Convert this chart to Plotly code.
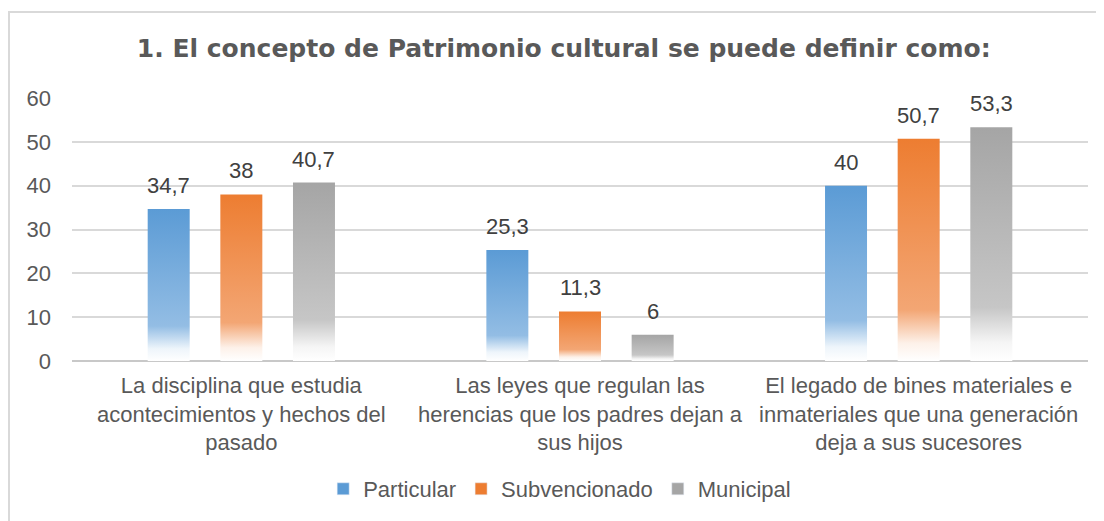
import plotly.graph_objects as go

# ---- data ----
categories = [
    "La disciplina que estudia<br>acontecimientos y hechos del<br>pasado",
    "Las leyes que regulan las<br>herencias que los padres dejan a<br>sus hijos",
    "El legado de bines materiales e<br>inmateriales que una generación<br>deja a sus sucesores",
]
series_names = ["Particular", "Subvencionado", "Municipal"]
particular = [34.7, 25.3, 40]
subvencionado = [38, 11.3, 50.7]
municipal = [40.7, 6, 53.3]
y_ticks = [0, 10, 20, 30, 40, 50, 60]
title_text = "1. El concepto de Patrimonio cultural se puede definir como:"

# ---- style ----
series_values = [particular, subvencionado, municipal]
solid = ["#5B9BD5", "#ED7D31", "#A5A5A5"]
scales = [
    [[0, "#FFFFFF"], [0.08, "#EEF5FB"], [0.23, "#93BDE4"], [1, "#5B9BD5"]],
    [[0, "#FFFFFF"], [0.08, "#FDF1E9"], [0.23, "#F3A674"], [1, "#ED7D31"]],
    [[0, "#FFFFFF"], [0.08, "#F5F5F5"], [0.23, "#C6C6C6"], [1, "#A5A5A5"]],
]
offsets = [-0.2145, 0.0, 0.2145]
half_w = 0.062

W, H = 1096, 513  # page body has an 8px margin
PLOT_H = 263

def fmt(v):
    s = ("%g" % v)
    return s.replace(".", ",")

fig = go.Figure()
annotations = []
for s, (name, vals) in enumerate(zip(series_names, series_values)):
    for i, v in enumerate(vals):
        xc = i + offsets[s]
        fig.add_trace(go.Scatter(
            x=[xc - half_w, xc - half_w, xc + half_w, xc + half_w, xc - half_w],
            y=[0, v, v, 0, 0],
            mode="lines", fill="toself",
            line=dict(width=0, color=solid[s]),
            fillgradient=dict(type="vertical", colorscale=scales[s], start=0, stop=v),
            showlegend=False, hoverinfo="skip",
        ))
        annotations.append(dict(
            x=xc, y=v, xref="x", yref="y", text=fmt(v), showarrow=False,
            yanchor="bottom", yshift=9,
            font=dict(family="Liberation Sans, Arial", size=22, color="#404040"),
        ))
    # legend entry
    fig.add_trace(go.Bar(x=[None], y=[None], name=name, marker_color=solid[s]))

fig.update_layout(
    width=W, height=H,
    margin=dict(l=64, r=16, t=90, b=160, autoexpand=False),
    paper_bgcolor="white", plot_bgcolor="white",
    font=dict(family="Liberation Sans, Arial", size=22, color="#595959"),
    title=dict(
        text="<b>" + title_text + "</b>",
        x=0.484, xref="paper", xanchor="center",
        y=1 - 40 / H, yref="container", yanchor="middle",
        font=dict(family="DejaVu Sans", size=25, color="#595959"),
    ),
    xaxis=dict(
        range=[-0.5, 2.5], tickmode="array", tickvals=[0, 1, 2], ticktext=categories,
        showgrid=False, zeroline=False, showline=False, ticks="",
        tickfont=dict(size=22, color="#595959"), ticklabelstandoff=9,
    ),
    yaxis=dict(
        range=[0, 60], tickmode="array", tickvals=y_ticks,
        showgrid=True, gridcolor="#D9D9D9", gridwidth=1.5,
        zeroline=True, zerolinecolor="#C8C8C8", zerolinewidth=2,
        showline=False, ticks="", ticklabelstandoff=20,
        tickfont=dict(size=22, color="#595959"),
    ),
    legend=dict(
        orientation="h", x=0.48, xanchor="center", y=-128 / PLOT_H, yanchor="middle",
        font=dict(size=22, color="#595959"), itemclick=False,
    ),
    annotations=annotations,
    shapes=[dict(
        type="rect", xref="paper", yref="paper",
        x0=(1 - 64) / 1016, x1=(1120 - 64) / 1016,
        y0=(353 - 540) / PLOT_H, y1=(353 - 4) / PLOT_H,
        line=dict(color="#D9D9D9", width=2), fillcolor="rgba(0,0,0,0)", layer="below",
    )],
    showlegend=True,
)

fig.write_html("out.html")
